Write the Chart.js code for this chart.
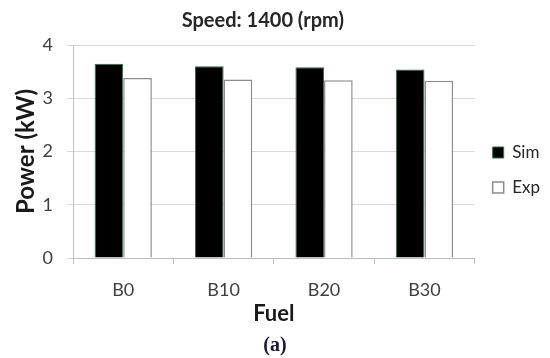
<!DOCTYPE html>
<html lang="en">
<head>
  <meta charset="UTF-8" />
  <script src="https://cdn.jsdelivr.net/npm/chart.js"></script>
  <title>Speed 1400 rpm</title>
  <style>
    html, body { margin: 0; padding: 0; background: #fff; }
    #wrap { width: 550px; height: 358px; }
  </style>
</head>
<body>
  <div id="wrap"><canvas id="powerChart"></canvas></div>
  <script>
    const fuels = ['B0', 'B10', 'B20', 'B30'];
    const simPower = [3.65, 3.60, 3.58, 3.54];
    const expPower = [3.38, 3.35, 3.34, 3.33];
    const yTicks = [0, 1, 2, 3, 4];

    const font = 'Lato, "Open Sans", sans-serif';

    new Chart(document.getElementById('powerChart').getContext('2d'), {
      type: 'bar',
      data: {
        labels: fuels,
        datasets: [
          {
            label: 'Sim',
            data: simPower,
            backgroundColor: '#000000',
            borderColor: '#2e6b45',
            borderWidth: 1,
            categoryPercentage: 0.57,
            barPercentage: 1
          },
          {
            label: 'Exp',
            data: expPower,
            backgroundColor: '#ffffff',
            borderColor: '#8c8c8c',
            borderWidth: 1.5,
            categoryPercentage: 0.57,
            barPercentage: 1
          }
        ]
      },
      options: {
        responsive: true,
        maintainAspectRatio: false,
        animation: false,
        layout: { padding: 0 },
        plugins: {
          title: {
            display: true,
            // trailing spaces nudge the centred title a little left, like the original
            text: 'Speed: 1400 (rpm)     ',
            color: '#262626',
            font: { family: font, size: 20, weight: 'bold' },
            padding: { top: 9, bottom: 12 }
          },
          subtitle: {
            display: true,
            position: 'bottom',
            text: '(a)',
            color: '#1a1a3a',
            font: { family: '"Liberation Serif", "DejaVu Serif", serif', size: 20, weight: 'bold' },
            padding: 0
          },
          legend: {
            position: 'right',
            align: 'start',
            maxWidth: 76,
            // empty title only used as a spacer to push the items down
            title: {
              display: true,
              text: ' ',
              font: { size: 10, lineHeight: 1 },
              padding: 58
            },
            labels: {
              boxWidth: 11,
              boxHeight: 11,
              padding: 18,
              color: '#262626',
              font: { family: font, size: 17, lineHeight: 1 }
            }
          },
          tooltip: { enabled: false }
        },
        scales: {
          x: {
            afterFit: (axis) => { axis.height = 76; },
            grid: {
              display: true,
              drawOnChartArea: false,
              drawTicks: true,
              tickLength: 6,
              color: '#bfbfbf'
            },
            border: { display: true, color: '#bfbfbf' },
            ticks: {
              color: '#404040',
              padding: 15,
              font: { family: font, size: 18 }
            },
            title: {
              display: true,
              text: 'Fuel',
              color: '#1a1a1a',
              font: { family: font, size: 22, weight: 'bold' },
              padding: { top: 0, bottom: 7 }
            }
          },
          y: {
            min: 0,
            max: 4,
            afterFit: (axis) => { axis.width = 73; },
            afterBuildTicks: (axis) => { axis.ticks = yTicks.map(v => ({ value: v })); },
            grid: {
              color: '#d9d9d9',
              tickLength: 6,
              lineWidth: 1
            },
            border: { display: true, color: '#bfbfbf' },
            ticks: {
              color: '#404040',
              padding: 14,
              font: { family: font, size: 18 }
            },
            title: {
              display: true,
              text: 'Power (kW)',
              color: '#1a1a1a',
              font: { family: font, size: 24, weight: 'bold' },
              padding: { top: 12, bottom: 2 }
            }
          }
        }
      }
    });
  </script>
</body>
</html>
